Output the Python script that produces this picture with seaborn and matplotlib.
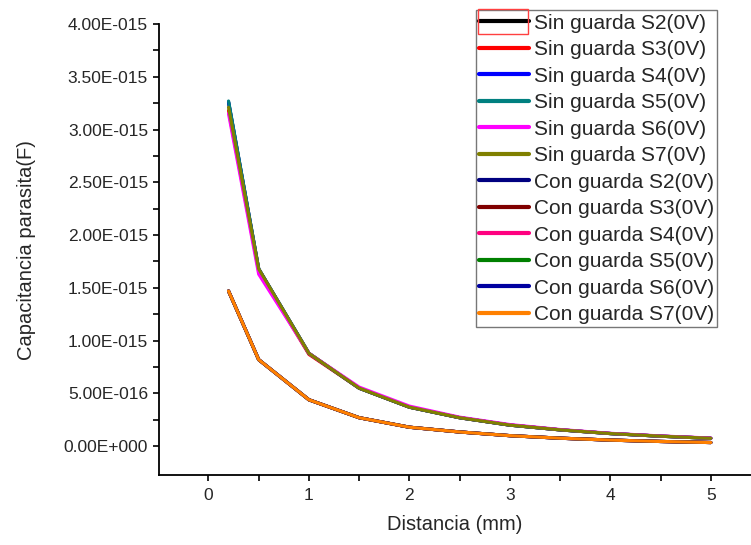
import numpy as np
import pandas as pd
import seaborn as sns
import matplotlib.pyplot as plt
from matplotlib.patches import Rectangle
from matplotlib.ticker import FuncFormatter, MultipleLocator, FixedLocator

# distancia en mm
distancia = [0.2, 0.5, 1.0, 1.5, 2.0, 2.5, 3.0, 3.5, 4.0, 4.5, 5.0]

# capacitancia parasita en fF (se multiplica por 1e-15 al final)
sin_s2 = [3.26, 1.68, 0.88, 0.55, 0.37, 0.27, 0.200, 0.155, 0.120, 0.095, 0.075]
sin_s3 = [3.18, 1.66, 0.87, 0.55, 0.37, 0.27, 0.200, 0.155, 0.120, 0.095, 0.075]
sin_s4 = [3.26, 1.68, 0.88, 0.55, 0.37, 0.27, 0.200, 0.155, 0.120, 0.095, 0.075]
sin_s5 = [3.27, 1.68, 0.88, 0.55, 0.37, 0.27, 0.200, 0.155, 0.120, 0.095, 0.075]
sin_s6 = [3.15, 1.63, 0.88, 0.56, 0.38, 0.275, 0.205, 0.158, 0.122, 0.097, 0.077]
sin_s7 = [3.21, 1.68, 0.88, 0.55, 0.37, 0.27, 0.200, 0.155, 0.120, 0.095, 0.075]
con_s2 = [1.47, 0.82, 0.44, 0.27, 0.18, 0.135, 0.100, 0.076, 0.058, 0.045, 0.035]
con_s3 = [1.47, 0.82, 0.44, 0.27, 0.18, 0.135, 0.100, 0.076, 0.058, 0.045, 0.035]
con_s4 = [1.47, 0.82, 0.44, 0.27, 0.18, 0.135, 0.100, 0.076, 0.058, 0.045, 0.035]
con_s5 = [1.47, 0.82, 0.44, 0.27, 0.18, 0.135, 0.100, 0.076, 0.058, 0.045, 0.035]
con_s6 = [1.47, 0.82, 0.44, 0.27, 0.18, 0.135, 0.100, 0.076, 0.058, 0.045, 0.035]
con_s7 = [1.47, 0.82, 0.44, 0.27, 0.18, 0.135, 0.100, 0.076, 0.058, 0.045, 0.035]

series = {
    'Sin guarda S2(0V)': sin_s2,
    'Sin guarda S3(0V)': sin_s3,
    'Sin guarda S4(0V)': sin_s4,
    'Sin guarda S5(0V)': sin_s5,
    'Sin guarda S6(0V)': sin_s6,
    'Sin guarda S7(0V)': sin_s7,
    'Con guarda S2(0V)': con_s2,
    'Con guarda S3(0V)': con_s3,
    'Con guarda S4(0V)': con_s4,
    'Con guarda S5(0V)': con_s5,
    'Con guarda S6(0V)': con_s6,
    'Con guarda S7(0V)': con_s7,
}
colores = ['#000000', '#FF0000', '#0000FF', '#008080', '#FF00FF', '#808000',
           '#000080', '#800000', '#FF0080', '#008000', '#0000A0', '#FF8000']

y_ticks = [0.0, 0.5, 1.0, 1.5, 2.0, 2.5, 3.0, 3.5, 4.0]

rows = []
for nombre, vals in series.items():
    for d, c in zip(distancia, vals):
        rows.append({'distancia': d, 'cap': c * 1e-15, 'serie': nombre})
df = pd.DataFrame(rows)

sns.set_style('white')
plt.rcParams['font.family'] = ['Liberation Sans', 'DejaVu Sans']

fig = plt.figure(figsize=(7.51, 5.45), dpi=100)
ax = fig.add_axes([0.212, 0.128, 0.788, 0.828])

sns.lineplot(data=df, x='distancia', y='cap', hue='serie',
             hue_order=list(series.keys()), palette=colores,
             linewidth=2.3, ax=ax, estimator=None, sort=False)

ax.set_xlim(-0.49, 5.4)
ax.set_ylim(-0.275e-15, 4.0e-15)
ax.xaxis.set_major_locator(MultipleLocator(1))
ax.xaxis.set_minor_locator(MultipleLocator(0.5))
ax.yaxis.set_major_locator(FixedLocator([t * 1e-15 for t in y_ticks]))
ax.yaxis.set_minor_locator(FixedLocator([(t + 0.25) * 1e-15 for t in y_ticks[:-1]]))


def origin_fmt(v, pos):
    s = f"{v:.2E}"
    mant, exp = s.split('E')
    return f"{mant}E{exp[0]}{int(exp[1:]):03d}"


ax.yaxis.set_major_formatter(FuncFormatter(origin_fmt))
ax.xaxis.set_major_formatter(FuncFormatter(lambda v, p: f"{v:g}"))

for side in ['top', 'right']:
    ax.spines[side].set_visible(False)
for side in ['left', 'bottom']:
    ax.spines[side].set_linewidth(1.3)
    ax.spines[side].set_color('black')

ax.tick_params(which='both', direction='out', length=4.5, width=1.2,
               color='black', labelsize=12.5, left=True, bottom=True)
ax.tick_params(axis='x', pad=5)

ax.set_xlabel('Distancia (mm)', fontsize=14.5, labelpad=8)
ax.set_ylabel('Capacitancia parasita(F)', fontsize=14.5, labelpad=20)

leg = ax.legend(loc='upper left', bbox_to_anchor=(0.535, 1.03),
                fontsize=15, frameon=True, fancybox=False,
                handlelength=2.4, handletextpad=0.25, labelspacing=0.36,
                borderpad=0.15, borderaxespad=0)
leg.get_frame().set_edgecolor('#555555')
leg.get_frame().set_linewidth(1.0)
for line in leg.get_lines():
    line.set_linewidth(3)

# marco rojo de seleccion alrededor del primer simbolo de la leyenda
fig.patches.append(Rectangle((478 / 751, 1 - 34 / 545), 50 / 751, 25 / 545,
                             transform=fig.transFigure, fill=False,
                             edgecolor='#FF4040', linewidth=1.0))

plt.savefig('out.png', dpi=100)
